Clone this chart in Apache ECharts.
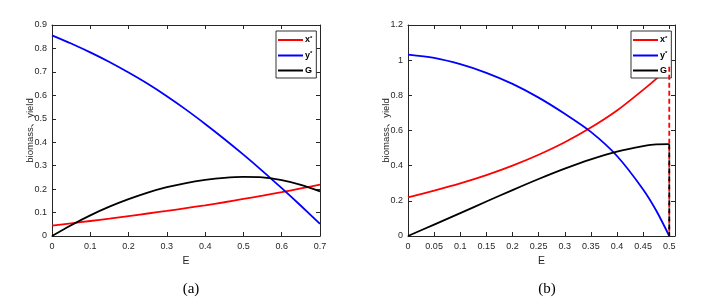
<!DOCTYPE html>
<html>
<head>
<meta charset="utf-8">
<script src="https://cdn.jsdelivr.net/npm/echarts@6/dist/echarts.min.js"></script>
<style>
html,body{margin:0;padding:0;background:#fff;}
#c{width:709px;height:297px;}
</style>
</head>
<body>
<div id="c"></div>
<script>
// ---- Panel (a) data ----
var E_A = [0, 0.05, 0.1, 0.15, 0.2, 0.25, 0.3, 0.35, 0.4, 0.45, 0.5, 0.55, 0.6, 0.65, 0.7];
var xA  = [0.044, 0.054, 0.064, 0.074, 0.085, 0.096, 0.107, 0.119, 0.131, 0.144, 0.158, 0.172, 0.187, 0.203, 0.219];
var yA  = [0.856, 0.821, 0.783, 0.742, 0.697, 0.649, 0.596, 0.539, 0.478, 0.414, 0.347, 0.277, 0.204, 0.129, 0.052];
var GA  = [0, 0.046, 0.088, 0.125, 0.157, 0.185, 0.208, 0.226, 0.239, 0.248, 0.252, 0.250, 0.238, 0.218, 0.190];

// ---- Panel (b) data ----
var E_B = [0, 0.05, 0.1, 0.15, 0.2, 0.25, 0.3, 0.35, 0.4, 0.45, 0.475, 0.5];
var xB  = [0.220, 0.258, 0.299, 0.346, 0.400, 0.462, 0.533, 0.617, 0.714, 0.831, 0.894, 0.962];
var yB  = [1.032, 1.013, 0.977, 0.928, 0.865, 0.787, 0.695, 0.592, 0.455, 0.265, 0.145, 0.0];
var GB  = [0, 0.065, 0.130, 0.196, 0.261, 0.324, 0.383, 0.436, 0.480, 0.511, 0.521, 0.522];
var E_END = 0.5;

var ticksAX = {min: 0, max: 0.7, interval: 0.1};
var ticksAY = {min: 0, max: 0.9, interval: 0.1};
var ticksBX = {min: 0, max: 0.511, interval: 0.05};
var ticksBY = {min: 0, max: 1.2, interval: 0.2};

var names = ['x*', 'y*', 'G'];
var colors = ['#ff0000', '#0000ff', '#000000'];

function pairs(xs, ys) { return xs.map(function (x, i) { return [x, ys[i]]; }); }

var axisColor = '#262626';
var labelFont = {fontFamily: 'Liberation Sans, Arial', fontSize: 9, color: axisColor};

function xAxes(grid, t) {
  var base = {
    type: 'value', gridIndex: grid, min: t.min, max: t.max, interval: t.interval,
    axisLine: {show: true, onZero: false, lineStyle: {color: axisColor, width: 1}},
    axisTick: {show: true, inside: true, length: 4, lineStyle: {color: axisColor}},
    splitLine: {show: false}
  };
  var bottom = Object.assign({}, base, {
    position: 'bottom',
    axisLabel: Object.assign({margin: 6, showMaxLabel: t.max === 0.7}, labelFont),
    name: 'E', nameLocation: 'middle', nameGap: 15,
    nameTextStyle: {fontFamily: 'Liberation Sans, Arial', fontSize: 10.5, color: axisColor}
  });
  var top = Object.assign({}, base, {position: 'top', axisLabel: {show: false}});
  return [bottom, top];
}
function yAxes(grid, t) {
  var base = {
    type: 'value', gridIndex: grid, min: t.min, max: t.max, interval: t.interval,
    axisLine: {show: true, onZero: false, lineStyle: {color: axisColor, width: 1}},
    axisTick: {show: true, inside: true, length: 4, lineStyle: {color: axisColor}},
    splitLine: {show: false}
  };
  var left = Object.assign({}, base, {
    position: 'left',
    axisLabel: Object.assign({margin: 5}, labelFont),
    name: 'biomass、yield', nameLocation: 'middle', nameGap: 17, nameRotate: 90,
    nameMoveOverlap: false,
    nameTextStyle: {fontFamily: 'Liberation Sans, Noto Sans CJK SC', fontSize: 9.5, color: axisColor}
  });
  var right = Object.assign({}, base, {position: 'right', axisLabel: {show: false}});
  return [left, right];
}

var xAxis = xAxes(0, ticksAX).concat(xAxes(1, ticksBX));
var yAxis = yAxes(0, ticksAY).concat(yAxes(1, ticksBY));

var series = [];
var dataA = [xA, yA, GA], dataB = [xB, yB, GB];
names.forEach(function (n, i) {
  series.push({
    name: n, type: 'line', xAxisIndex: 0, yAxisIndex: 0, symbol: 'none', smooth: 0.3,
    lineStyle: {color: colors[i], width: 1.8}, itemStyle: {color: colors[i]},
    data: pairs(E_A, dataA[i]), z: 3 + i
  });
});
names.forEach(function (n, i) {
  series.push({
    name: n, type: 'line', xAxisIndex: 2, yAxisIndex: 2, symbol: 'none', smooth: 0.3,
    lineStyle: {color: colors[i], width: 1.8}, itemStyle: {color: colors[i]},
    data: pairs(E_B, dataB[i]), z: 3 + i
  });
});
// vertical dashed lines at E_END in panel (b)
series.push({
  name: 'xdash', type: 'line', xAxisIndex: 2, yAxisIndex: 2, symbol: 'none',
  lineStyle: {color: '#ff0000', width: 1.8, type: [5, 3]},
  data: [[E_END, xB[xB.length - 1]], [E_END, 0]], z: 6
});
series.push({
  name: 'Gdash', type: 'line', xAxisIndex: 2, yAxisIndex: 2, symbol: 'none',
  lineStyle: {color: '#000000', width: 1.8, type: [5, 3]},
  data: [[E_END, GB[GB.length - 1]], [E_END, 0]], z: 7
});

var legendRich = {
  t: {fontFamily: 'Liberation Sans, Arial', fontSize: 9, fontWeight: 'bold', color: '#000', lineHeight: 10},
  s: {fontFamily: 'Liberation Sans, Arial', fontSize: 6, fontWeight: 'bold', color: '#000', verticalAlign: 'top', lineHeight: 10}
};
function legendFmt(n) {
  if (n === 'G') return '{t|G}';
  return '{t|' + n.charAt(0) + '}{s|*}';
}
function legend(left) {
  return {
    data: names.map(function (n, i) { return {name: n, itemStyle: {color: colors[i]}}; }),
    orient: 'vertical', left: left, top: 31,
    icon: 'rect', itemWidth: 25, itemHeight: 2, itemGap: 6,
    padding: [4, 4, 3, 2],
    borderColor: '#333', borderWidth: 1, backgroundColor: '#fff',
    selectedMode: false,
    formatter: legendFmt,
    textStyle: {rich: legendRich, padding: [0, 0, 0, -3]}
  };
}

var option = {
  animation: false,
  backgroundColor: '#fff',
  grid: [
    {left: 52, top: 25, width: 268, height: 211, show: false},
    {left: 408, top: 25, width: 267, height: 211, show: false}
  ],
  title: [
    {text: '(a)', left: 186, top: 277, textAlign: 'center',
     textStyle: {fontFamily: 'Liberation Serif', fontSize: 15, fontWeight: 'normal', color: '#000'}},
    {text: '(b)', left: 542, top: 277, textAlign: 'center',
     textStyle: {fontFamily: 'Liberation Serif', fontSize: 15, fontWeight: 'normal', color: '#000'}}
  ],
  legend: [legend(276), legend(631)],
  xAxis: xAxis,
  yAxis: yAxis,
  series: series
};

var chart = echarts.init(document.getElementById('c'), null, {renderer: 'canvas'});
chart.setOption(option);
</script>
</body>
</html>
